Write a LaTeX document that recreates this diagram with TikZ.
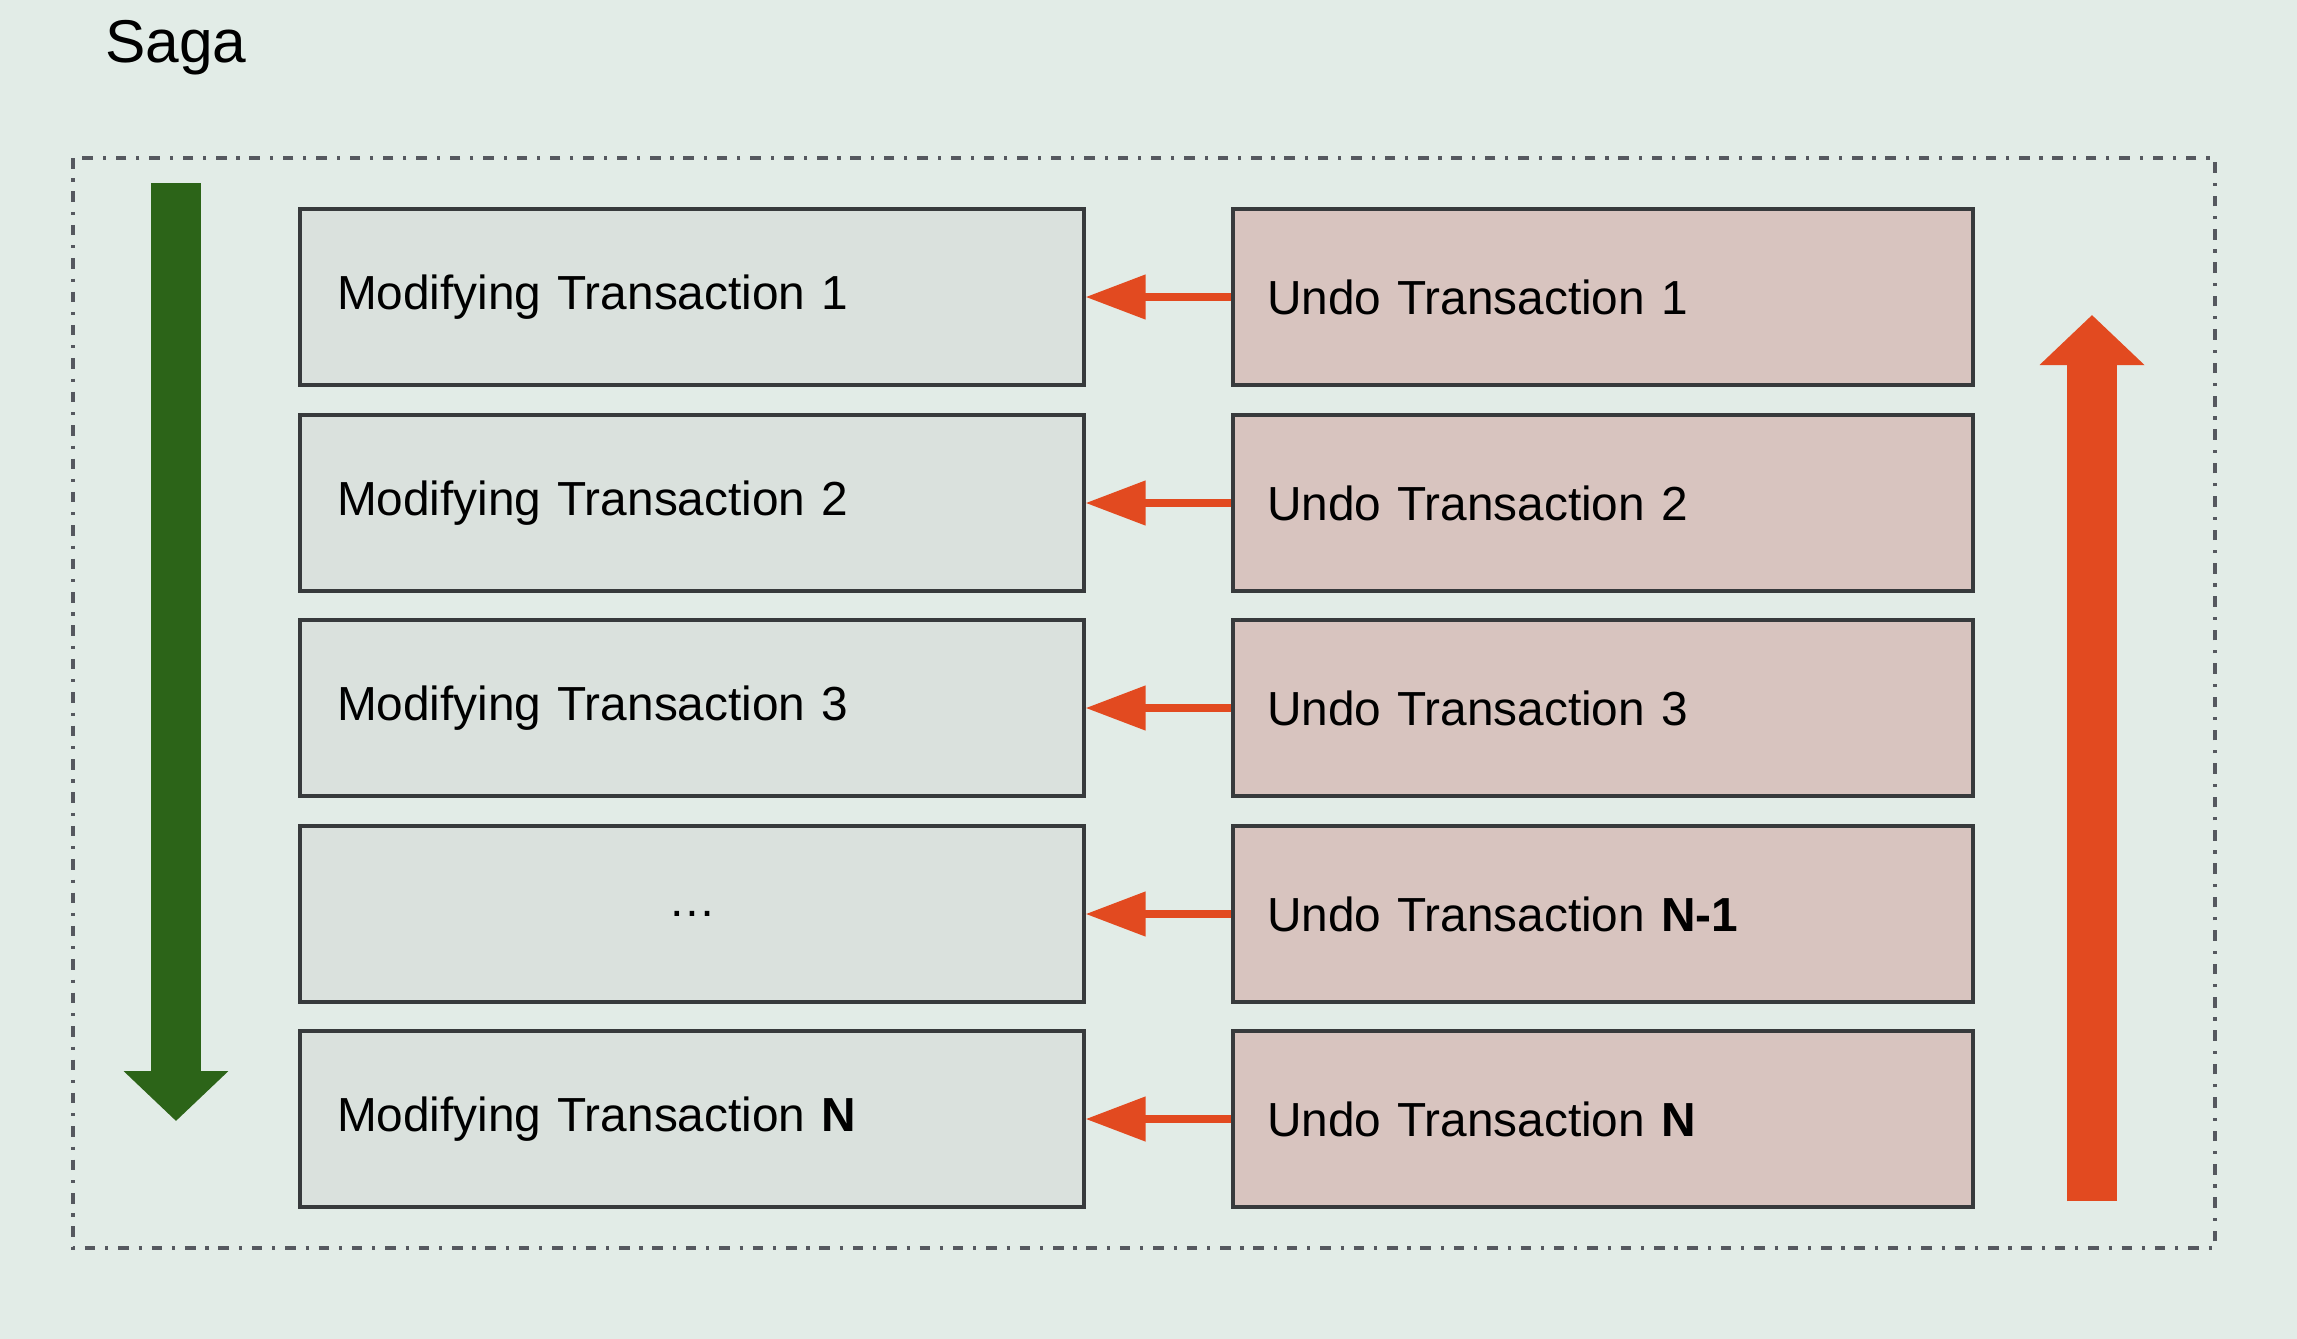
\documentclass[tikz,border=0pt]{standalone}
\usepackage{fontspec}
\setmainfont{Liberation Sans}
\usetikzlibrary{arrows.meta}
\definecolor{bgcol}{RGB}{226,236,231}
\definecolor{modfill}{RGB}{218,225,221}
\definecolor{undofill}{RGB}{216,196,191}
\definecolor{boxline}{RGB}{55,58,60}
\definecolor{framegrey}{RGB}{85,88,95}
\definecolor{sagagreen}{RGB}{44,100,24}
\definecolor{undored}{RGB}{226,74,32}
\begin{document}
\begin{tikzpicture}[
    modbox/.style={draw=boxline, fill=modfill, line width=0.9pt, minimum height=1.76cm,
        text width=7.10cm, inner xsep=0.37cm, align=left, font=\fontsize{13.6}{16}\selectfont},
    undobox/.style={modbox, fill=undofill, text width=6.72cm, inner xsep=0.34cm},
    undoarrow/.style={draw=undored, line width=2.2pt, -{Triangle[length=0.6cm,width=0.43cm]}},
    bigarrow/.style={line width=0.5cm, -{Triangle[length=0.5cm,width=1.02cm]}}
]
    \fill[bgcol] (0,0) rectangle (22.97,-13.39);
    \useasboundingbox (0,0) rectangle (22.97,-13.39);

    %%title and frame
    \node[anchor=west, font=\fontsize{17.2}{20}\selectfont] (saga) at (0.93,-0.48){Saga};
    \draw[framegrey, line width=1pt, dash pattern=on 3pt off 2.8pt on 0.9pt off 2.8pt]
        (0.73,-1.58) rectangle (22.15,-12.48);

    %%modifying transactions
    \node[modbox] (mod1) at (6.92,-2.97){Modifying Transaction 1};
    \node[modbox] (mod2) at (6.92,-5.03){Modifying Transaction 2};
    \node[modbox] (mod3) at (6.92,-7.08){Modifying Transaction 3};
    \node[modbox, align=center] (mod4) at (6.92,-9.14){\dots};
    \node[modbox] (mod5) at (6.92,-11.19){Modifying Transaction \textbf{N}};

    %%undo transactions
    \node[undobox] (undo1) at (16.03,-2.97){Undo Transaction 1};
    \node[undobox] (undo2) at (16.03,-5.03){Undo Transaction 2};
    \node[undobox] (undo3) at (16.03,-7.08){Undo Transaction 3};
    \node[undobox] (undo4) at (16.03,-9.14){Undo Transaction \textbf{N-1}};
    \node[undobox] (undo5) at (16.03,-11.19){Undo Transaction \textbf{N}};

    %%compensation arrows
    \draw[undoarrow] (undo1) -- (mod1);
    \draw[undoarrow] (undo2) -- (mod2);
    \draw[undoarrow] (undo3) -- (mod3);
    \draw[undoarrow] (undo4) -- (mod4);
    \draw[undoarrow] (undo5) -- (mod5);

    %%direction arrows
    \coordinate (fwdstart) at (1.76,-1.83);
    \coordinate (fwdend) at (1.76,-11.21);
    \coordinate (backstart) at (20.92,-12.01);
    \coordinate (backend) at (20.92,-3.15);
    \draw[bigarrow, sagagreen] (fwdstart) -- (fwdend);
    \draw[bigarrow, undored] (backstart) -- (backend);
\end{tikzpicture}
\end{document}
